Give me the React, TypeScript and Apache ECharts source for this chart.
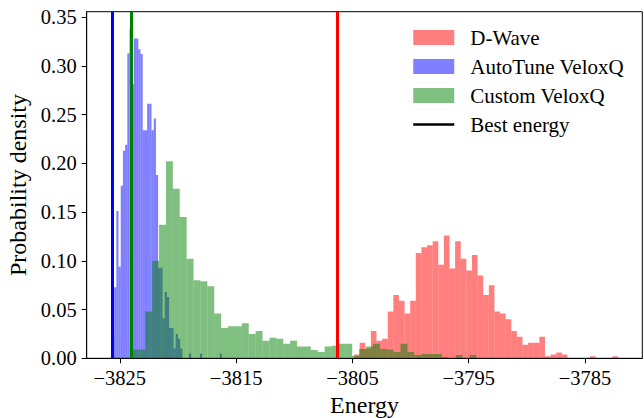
import React, { useEffect, useRef } from "react";
import * as echarts from "echarts";

// ---- data -----------------------------------------------------------
const seriesNames = ["D-Wave", "AutoTune VeloxQ", "Custom VeloxQ", "Best energy"];

// histogram bins: first bin edge, bin width, densities
const dwaveStart = -3804.86;
const dwaveWidth = 0.48297;
const dwaveDensity = [
  0.004, 0.016, 0.010, 0.028, 0.018, 0.020, 0.048, 0.065, 0.059, 0.046,
  0.059, 0.108, 0.114, 0.116, 0.120, 0.096, 0.126, 0.092, 0.120, 0.102,
  0.090, 0.106, 0.085, 0.065, 0.075, 0.048, 0.046, 0.040, 0.028, 0.022,
  0.014, 0.016, 0.016, 0.022, 0.002, 0.004, 0.006, 0.004, 0.0, 0.0,
  0.0, 0.0, 0.002, 0.0, 0.0, 0.0, 0.002,
];

const autoStart = -3825.68;
const autoWidth = 0.18917;
const autoDensity = [
  0.026, 0.073, 0.151, 0.094, 0.177, 0.213, 0.219, 0.313, 0.338, 0.281,
  0.328, 0.328, 0.317, 0.312, 0.234, 0.234, 0.261, 0.261, 0.234, 0.246,
  0.188, 0.093, 0.093, 0.041, 0.068, 0.063, 0.031, 0.031, 0.010, 0.025,
  0.020, 0.010, 0.0, 0.0, 0.0, 0.005, 0.0, 0.0, 0.0, 0.0,
  0.005, 0.0, 0.0, 0.0, 0.0, 0.0, 0.0, 0.0, 0.0, 0.005,
];

const customStart = -3824.0;
const customWidth = 0.5933;
const customDensity = [
  0.009, 0.009, 0.048, 0.100, 0.137, 0.202, 0.174, 0.145, 0.102, 0.080,
  0.079, 0.074, 0.046, 0.031, 0.033, 0.033, 0.036, 0.025, 0.028, 0.018,
  0.021, 0.020, 0.015, 0.018, 0.012, 0.012, 0.0085, 0.0065, 0.012, 0.013,
  0.015, 0.015, 0.0025, 0.0096, 0.012, 0.015, 0.0096, 0.009, 0.0065, 0.015,
  0.0065, 0.0034, 0.0044, 0.0044, 0.0044, 0.0014, 0.0, 0.0034, 0.0, 0.0034,
];

// best energies (vertical lines)
const bestEnergies = [-3806.28, -3825.68, -3824.0];
const bestColors = ["#ff0000", "#0000ff", "#008000"];

// axes
const xTicks = [-3825, -3815, -3805, -3795, -3785];
const yTicks = [0, 0.05, 0.1, 0.15, 0.2, 0.25, 0.3, 0.35];
const xMin = -3827.85;
const xMax = -3780.07;
const yMax = 0.3555;

const FONT = "'Liberation Serif', 'DejaVu Serif', serif";

function toBins(start: number, width: number, dens: number[]) {
  return dens.map((d, i) => [start + i * width, start + (i + 1) * width, d]);
}

function renderBar(params: any, api: any) {
  const x0 = api.value(0);
  const x1 = api.value(1);
  const h = api.value(2);
  if (!h) return null;
  const p0 = api.coord([x0, 0]);
  const p1 = api.coord([x1, h]);
  return {
    type: "rect",
    shape: { x: p0[0], y: p1[1], width: p1[0] - p0[0], height: p0[1] - p1[1] },
    style: { fill: api.visual("color") },
  };
}

export default function App() {
  const ref = useRef<HTMLDivElement>(null);
  useEffect(() => {
    if (!ref.current) return;
    const chart = echarts.init(ref.current, undefined, { renderer: "svg" });
    const histColors = ["rgba(255,0,0,0.5)", "rgba(0,0,255,0.5)", "rgba(0,128,0,0.5)"];
    const hists = [
      toBins(dwaveStart, dwaveWidth, dwaveDensity),
      toBins(autoStart, autoWidth, autoDensity),
      toBins(customStart, customWidth, customDensity),
    ];
    chart.setOption({
      animation: false,
      backgroundColor: "#ffffff",
      grid: {
        left: 86.7,
        right: 1.7,
        top: 11.7,
        bottom: 59.7,
        show: true,
        borderColor: "#000",
        borderWidth: 1,
        backgroundColor: "transparent",
        containLabel: false,
        outerBoundsMode: "none",
      },
      legend: {
        orient: "vertical",
        left: 412,
        top: 27,
        padding: 0,
        itemWidth: 41,
        itemHeight: 15,
        itemGap: 8,
        selectedMode: false,
        textStyle: {
          fontFamily: FONT,
          fontSize: 21,
          color: "#000",
          lineHeight: 20,
          padding: [0, 0, 0, 11],
        },
        data: [
          { name: seriesNames[0], icon: "rect" },
          { name: seriesNames[1], icon: "rect" },
          { name: seriesNames[2], icon: "rect" },
          {
            name: seriesNames[3],
            itemStyle: { opacity: 0, borderWidth: 0 },
            lineStyle: { color: "#000", width: 2.5, opacity: 1 },
          },
        ],
      },
      xAxis: {
        type: "value",
        min: xMin,
        max: xMax,
        name: "Energy",
        nameLocation: "middle",
        nameGap: 30,
        nameTextStyle: { fontFamily: FONT, fontSize: 24, color: "#000" },
        axisLine: { show: true, lineStyle: { color: "#000", width: 1 } },
        axisTick: {
          show: true,
          length: 5,
          lineStyle: { color: "#000", width: 1 },
          customValues: xTicks,
        },
        axisLabel: {
          fontFamily: FONT,
          fontSize: 20.5,
          color: "#000",
          margin: 9,
          customValues: xTicks,
          formatter: (v: number) => (v < 0 ? "\u2212" : "") + Math.abs(v).toString(),
        },
        splitLine: { show: false },
      },
      yAxis: {
        type: "value",
        min: 0,
        max: yMax,
        name: "Probability density",
        nameLocation: "middle",
        nameGap: 52,
        nameTextStyle: { fontFamily: FONT, fontSize: 24, color: "#000" },
        axisLine: { show: true, lineStyle: { color: "#000", width: 1 } },
        axisTick: {
          show: true,
          length: 5,
          lineStyle: { color: "#000", width: 1 },
          customValues: yTicks,
        },
        axisLabel: {
          fontFamily: FONT,
          fontSize: 20.5,
          color: "#000",
          margin: 10,
          customValues: yTicks,
          formatter: (v: number) => v.toFixed(2),
        },
        splitLine: { show: false },
      },
      series: [
        ...hists.map((d, i) => ({
          name: seriesNames[i],
          type: "custom",
          renderItem: renderBar,
          encode: { x: [0, 1], y: 2 },
          itemStyle: { color: histColors[i] },
          data: d,
          clip: true,
          silent: true,
        })),
        {
          name: seriesNames[3],
          type: "line",
          data: [],
          symbol: "none",
          color: "#000",
          lineStyle: { color: "#000", width: 2.5 },
          z: 5,
          markLine: {
            silent: true,
            symbol: ["none", "none"],
            label: { show: false },
            lineStyle: { type: "solid", width: 3 },
            data: bestEnergies.map((e, i) => ({
              xAxis: e,
              lineStyle: { color: bestColors[i], width: 3, type: "solid" },
            })),
          },
        },
      ],
    });
    return () => chart.dispose();
  }, []);
  return (
    <div
      ref={ref}
      style={{ position: "absolute", left: 0, top: 0, width: 644, height: 418 }}
    />
  );
}
